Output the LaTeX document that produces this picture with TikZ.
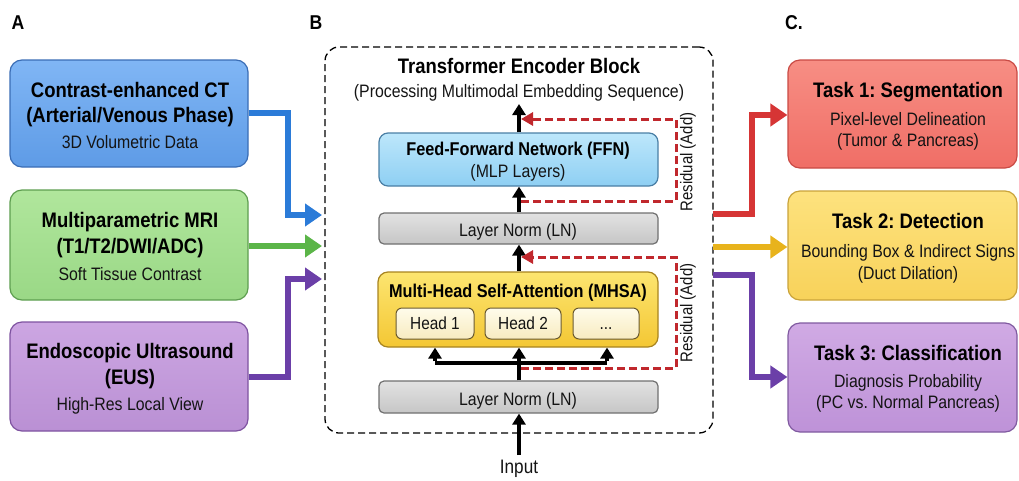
\documentclass[tikz,border=0pt]{standalone}
\usepackage{fontspec}
\setmainfont{Liberation Sans}[FakeStretch=0.88]
\usetikzlibrary{arrows.meta}
\frenchspacing
\definecolor{ctB}{HTML}{3A6DB5}\definecolor{ctT}{HTML}{80B6F5}\definecolor{ctBo}{HTML}{5E9BE6}
\definecolor{mrB}{HTML}{5E9E50}\definecolor{mrT}{HTML}{B0E69C}\definecolor{mrBo}{HTML}{9AD886}
\definecolor{euB}{HTML}{7E53A0}\definecolor{euT}{HTML}{CCA6E2}\definecolor{euBo}{HTML}{BA90D4}
\definecolor{t1B}{HTML}{C94A44}\definecolor{t1T}{HTML}{F78E84}\definecolor{t1Bo}{HTML}{F06E66}
\definecolor{t2B}{HTML}{C9A33A}\definecolor{t2T}{HTML}{FDE27E}\definecolor{t2Bo}{HTML}{F8D25A}
\definecolor{t3B}{HTML}{805AA0}\definecolor{t3T}{HTML}{D0AAE4}\definecolor{t3Bo}{HTML}{BE92D8}
\definecolor{ffB}{HTML}{4A7FA5}\definecolor{ffT}{HTML}{BDE7FB}\definecolor{ffBo}{HTML}{8ECFF3}
\definecolor{lnB}{HTML}{707070}\definecolor{lnT}{HTML}{E2E2E2}\definecolor{lnBo}{HTML}{C6C6C6}
\definecolor{mhB}{HTML}{A88420}\definecolor{mhT}{HTML}{FCE570}\definecolor{mhBo}{HTML}{F4C734}
\definecolor{hdB}{HTML}{6A5A30}\definecolor{hdT}{HTML}{FFFCEB}\definecolor{hdBo}{HTML}{F7EBC0}
\definecolor{aBlue}{HTML}{2B7BD8}\definecolor{aGreen}{HTML}{5BB548}\definecolor{aPurp}{HTML}{6B3FA8}
\definecolor{aRed}{HTML}{D63535}\definecolor{aYel}{HTML}{E8B31C}\definecolor{resR}{HTML}{C0282D}
\tikzset{
  box/.style={draw, rounded corners=12pt, line width=1.2pt, inner sep=0pt},
  bt/.style={anchor=base, inner sep=0pt, font=\fontsize{21}{25}\selectfont\bfseries},
  rt/.style={anchor=base, inner sep=0pt, font=\fontsize{18}{22}\selectfont, text=black!92},
  thick arrow/.style={line width=6pt, -{Triangle[length=17pt,width=22pt]}},
  blk/.style={line width=3.4pt, -{Triangle[length=11pt,width=13pt]}},
  blkl/.style={line width=3.4pt},
  res/.style={draw=resR, line width=3pt, dash pattern=on 8pt off 4pt},
  resarr/.style={res, -{Triangle[length=12pt,width=13pt]}, resR},
}
\begin{document}
\begin{tikzpicture}[x=1pt,y=-1pt]
\useasboundingbox (0,0) rectangle (1019,480);
% panel labels
\node[bt, font=\fontsize{20}{24}\selectfont\bfseries] (labA) at (18,29) {A};
\node[bt, font=\fontsize{20}{24}\selectfont\bfseries] (labB) at (316,29) {B};
\node[bt, font=\fontsize{20}{24}\selectfont\bfseries] (labC) at (794,29) {C.};

% ---------- left input boxes ----------
\node[box, draw=ctB, top color=ctT, bottom color=ctBo, minimum width=238pt, minimum height=107pt] (ct) at (129,113.5) {};
\node[bt] (ct1) at (130,97) {Contrast-enhanced CT};
\node[bt] (ct2) at (130,122) {(Arterial/Venous Phase)};
\node[rt] (ct3) at (130,148) {3D Volumetric Data};

\node[box, draw=mrB, top color=mrT, bottom color=mrBo, minimum width=238pt, minimum height=110pt] (mr) at (129,245) {};
\node[bt] (mr1) at (130,227) {Multiparametric MRI};
\node[bt] (mr2) at (130,253) {(T1/T2/DWI/ADC)};
\node[rt] (mr3) at (130,280) {Soft Tissue Contrast};

\node[box, draw=euB, top color=euT, bottom color=euBo, minimum width=238pt, minimum height=109pt] (eu) at (129,376.5) {};
\node[bt] (eu1) at (130,358) {Endoscopic Ultrasound};
\node[bt] (eu2) at (130,384) {(EUS)};
\node[rt] (eu3) at (130,410) {High-Res Local View};

% ---------- encoder block ----------
\node[draw, rounded corners=14pt, line width=1.3pt, dash pattern=on 7pt off 4pt, minimum width=388pt, minimum height=386pt, inner sep=0pt] (enc) at (519,240) {};
\node[bt] (title) at (519,73) {Transformer Encoder Block};
\node[rt] (sub) at (519,97) {(Processing Multimodal Embedding Sequence)};

\node[box, rounded corners=9pt, draw=ffB, top color=ffT, bottom color=ffBo, minimum width=279pt, minimum height=53pt] (ffn) at (518.5,159.5) {};
\node[bt, font=\fontsize{18.5}{22}\selectfont\bfseries] (ffn1) at (518,155) {Feed-Forward Network (FFN)};
\node[rt] (ffn2) at (518,177) {(MLP Layers)};

\node[box, rounded corners=5pt, draw=lnB, top color=lnT, bottom color=lnBo, minimum width=279pt, minimum height=31pt] (ln2) at (518.5,228.5) {};
\node[rt] (ln2t) at (518,236) {Layer Norm (LN)};

\node[box, rounded corners=10pt, draw=mhB, top color=mhT, bottom color=mhBo, minimum width=280pt, minimum height=75pt] (mhsa) at (518,309.5) {};
\node[bt, font=\fontsize{18.5}{22}\selectfont\bfseries] (mhsat) at (518,297) {Multi-Head Self-Attention (MHSA)};
\node[box, rounded corners=6pt, line width=1pt, draw=hdB, top color=hdT, bottom color=hdBo, minimum width=78pt, minimum height=31pt] (h1) at (435,323.5) {};
\node[rt, font=\fontsize{17.5}{21}\selectfont] (h1t) at (435,329) {Head 1};
\node[box, rounded corners=6pt, line width=1pt, draw=hdB, top color=hdT, bottom color=hdBo, minimum width=76pt, minimum height=31pt] (h2) at (523,323.5) {};
\node[rt, font=\fontsize{17.5}{21}\selectfont] (h2t) at (523,329) {Head 2};
\node[box, rounded corners=6pt, line width=1pt, draw=hdB, top color=hdT, bottom color=hdBo, minimum width=66pt, minimum height=31pt] (h3) at (606,323.5) {};
\node[rt, font=\fontsize{17.5}{21}\selectfont] (h3t) at (606,329) {...};

\node[box, rounded corners=5pt, draw=lnB, top color=lnT, bottom color=lnBo, minimum width=279pt, minimum height=32pt] (ln1) at (518.5,397) {};
\node[rt] (ln1t) at (518,405) {Layer Norm (LN)};

\node[rt, font=\fontsize{19.5}{23}\selectfont] (inp) at (519,473) {Input};

% main flow
\coordinate (inpTop) at (519,455);
\coordinate (jn) at (519,363);
\coordinate (jl) at (435,363);
\coordinate (jr) at (607,363);
\coordinate (topOut) at (519,104);
\draw[blk] (inpTop) -- (ln1.south -| inpTop);
\draw[blk] (ln1.north -| jn) -- (mhsa.south -| jn);
\draw[blkl] (jl) -- (jr);
\draw[blk] ([yshift=1.7pt]jl) -- (mhsa.south -| jl);
\draw[blk] ([yshift=1.7pt]jr) -- (mhsa.south -| jr);
\draw[blk] (mhsa.north -| jn) -- (ln2.south -| jn);
\draw[blk] (ln2.north -| jn) -- (ffn.south -| jn);
\draw[blk] (ffn.north -| jn) -- (topOut);

% residuals
\coordinate (r1a) at (521,368);
\coordinate (r1b) at (676,368);
\coordinate (r1c) at (676,257);
\coordinate (r1d) at (521,257);
\draw[resarr] (r1a) -- (r1b) -- (r1c) -- (r1d);
\coordinate (r2a) at (521,201);
\coordinate (r2b) at (676,201);
\coordinate (r2c) at (676,119);
\coordinate (r2d) at (521,119);
\draw[resarr] (r2a) -- (r2b) -- (r2c) -- (r2d);
\node[rotate=90, inner sep=0pt, font=\fontsize{17}{20}\selectfont, text=black!92] (res1) at (688,313) {Residual (Add)};
\node[rotate=90, inner sep=0pt, font=\fontsize{17}{20}\selectfont, text=black!92] (res2) at (688,162) {Residual (Add)};

% ---------- input arrows ----------
\coordinate (inCT) at (322,215);
\coordinate (inMR) at (322,246);
\coordinate (inEU) at (322,279);
\draw[thick arrow, draw=aBlue, aBlue] (ct.east |- 0,113) -- (288,113) -- (288,215) -- (inCT);
\draw[thick arrow, draw=aGreen, aGreen] (mr.east |- inMR) -- (inMR);
\draw[thick arrow, draw=aPurp, aPurp] (eu.east |- 0,377) -- (288,377) -- (288,279) -- (inEU);

% ---------- task boxes ----------
\node[box, draw=t1B, top color=t1T, bottom color=t1Bo, minimum width=229pt, minimum height=108pt] (t1) at (902.5,114) {};
\node[bt] (t1a) at (908,97) {Task 1: Segmentation};
\node[rt] (t1b) at (908,125) {Pixel-level Delineation};
\node[rt] (t1c) at (908,146) {(Tumor \& Pancreas)};

\node[box, draw=t2B, top color=t2T, bottom color=t2Bo, minimum width=229pt, minimum height=109pt] (t2) at (902.5,245.5) {};
\node[bt] (t2a) at (908,228) {Task 2: Detection};
\node[rt] (t2b) at (908,257) {Bounding Box \& Indirect Signs};
\node[rt] (t2c) at (908,279) {(Duct Dilation)};

\node[box, draw=t3B, top color=t3T, bottom color=t3Bo, minimum width=229pt, minimum height=109pt] (t3) at (902.5,377.5) {};
\node[bt] (t3a) at (908,360) {Task 3: Classification};
\node[rt] (t3b) at (908,387) {Diagnosis Probability};
\node[rt] (t3c) at (908,408) {(PC vs. Normal Pancreas)};

% output arrows
\coordinate (oR) at (713,214);
\coordinate (oY) at (713,247);
\coordinate (oP) at (713,275);
\draw[thick arrow, draw=aRed, aRed] (oR) -- (752,214) -- (752,115) -- (t1.west |- 0,115);
\draw[thick arrow, draw=aYel, aYel] (oY) -- (t2.west |- oY);
\draw[thick arrow, draw=aPurp, aPurp] (oP) -- (752,275) -- (752,377) -- (t3.west |- 0,377);
\end{tikzpicture}
\end{document}
